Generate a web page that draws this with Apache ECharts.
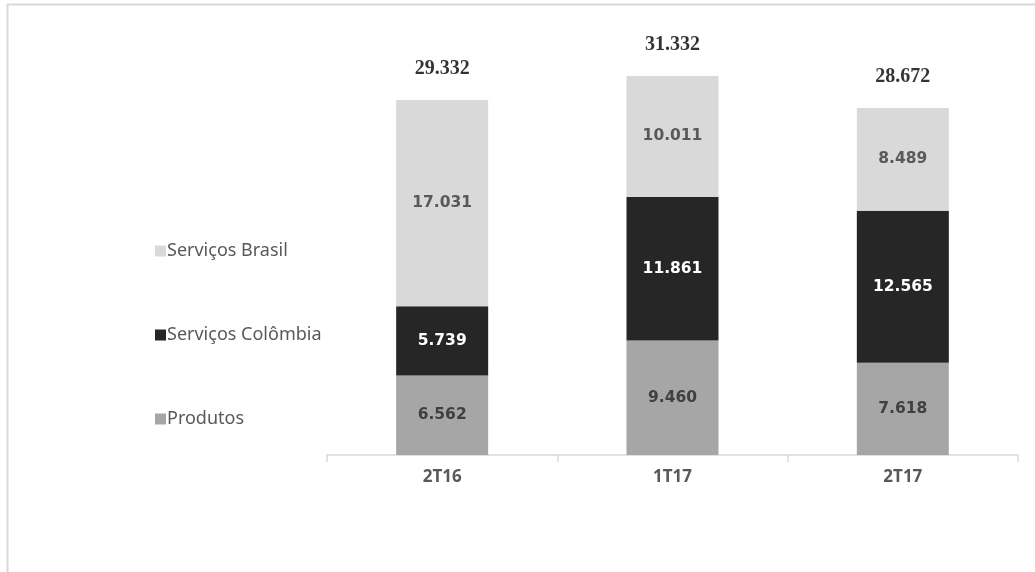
<!DOCTYPE html>
<html><head><meta charset="utf-8">
<script src="https://cdn.jsdelivr.net/npm/echarts@6/dist/echarts.min.js"></script>
<style>html,body{margin:0;padding:0;background:#fff}#c{width:1035px;height:572px}</style>
</head><body><div id="c"></div>
<script>
const categories = ['2T16', '1T17', '2T17'];
const produtos = [6562, 9460, 7618];
const servicosColombia = [5739, 11861, 12565];
const servicosBrasil = [17031, 10011, 8489];
const totals = categories.map((_, i) => produtos[i] + servicosColombia[i] + servicosBrasil[i]);

const fmt = v => (v / 1000).toFixed(3);
const valueLabel = (color) => ({
  show: true, position: 'inside', color: color,
  fontFamily: 'DejaVu Sans', fontWeight: 'bold', fontSize: 15.5,
  formatter: p => fmt(p.value)
});

const chart = echarts.init(document.getElementById('c'), null, {renderer: 'canvas'});
chart.setOption({
  animation: false,
  backgroundColor: '#ffffff',
  graphic: [{
    type: 'rect', left: 5, top: 2, shape: {width: 1040, height: 569},
    style: {fill: 'none', stroke: '#d9d9d9', lineWidth: 2}, silent: true, z: -1
  }],
  grid: {left: 327, right: 17, top: 31.5, bottom: 117},
  legend: {
    orient: 'vertical', left: 150, top: 237, itemGap: 66,
    itemWidth: 11, itemHeight: 11, icon: 'rect',
    data: ['Serviços Brasil', 'Serviços Colômbia', 'Produtos'],
    textStyle: {color: '#595959', fontFamily: 'Noto Sans', fontSize: 18, padding: [0, 0, 0, -4]}
  },
  xAxis: {
    type: 'category', data: categories,
    axisLine: {lineStyle: {color: '#d9d9d9', width: 1.5}},
    axisTick: {show: true, length: 7, lineStyle: {color: '#d9d9d9', width: 1.5}},
    axisLabel: {color: '#595959', fontFamily: 'Noto Sans', fontWeight: 'bold', fontSize: 17, margin: 14}
  },
  yAxis: {type: 'value', min: 0, max: 35000, show: false, splitLine: {show: false}},
  series: [
    {name: 'Produtos', type: 'bar', stack: 't', data: produtos, barWidth: 92,
     itemStyle: {color: '#a6a6a6'}, label: valueLabel('#404040')},
    {name: 'Serviços Colômbia', type: 'bar', stack: 't', data: servicosColombia,
     itemStyle: {color: '#262626'}, label: valueLabel('#ffffff')},
    {name: 'Serviços Brasil', type: 'bar', stack: 't', data: servicosBrasil,
     itemStyle: {color: '#d9d9d9'}, label: valueLabel('#595959')},
    {name: 'Total', type: 'scatter', data: totals, symbol: 'circle', symbolSize: 1,
     itemStyle: {color: 'rgba(255,255,255,0)'}, silent: true, z: 5,
     label: {show: true, position: 'top', distance: 21, color: '#000000',
       fontFamily: 'Liberation Serif', fontWeight: 'bold', fontSize: 20,
       formatter: p => fmt(p.value)}}
  ]
});
</script></body></html>
